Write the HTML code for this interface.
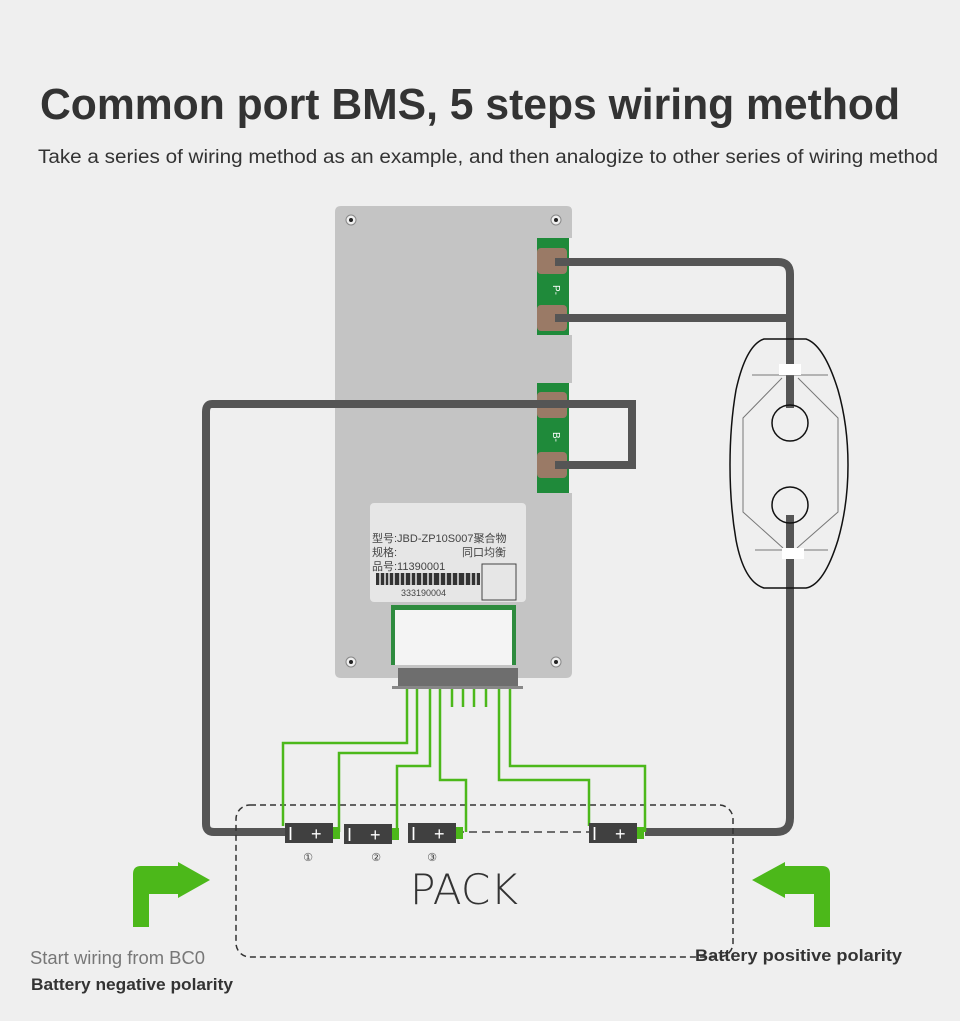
<!DOCTYPE html>
<html><head><meta charset="utf-8"><style>
body{margin:0;background:#efefef;}
svg{display:block}
</style></head><body>
<svg width="960" height="1021" viewBox="0 0 960 1021" xmlns="http://www.w3.org/2000/svg">
<rect width="960" height="1021" fill="#efefef"/>
<text x="470" y="119" text-anchor="middle" font-family="Liberation Sans, sans-serif" font-weight="bold" font-size="44" fill="#333" textLength="860" lengthAdjust="spacingAndGlyphs">Common port BMS, 5 steps wiring method</text>
<text x="488" y="163" text-anchor="middle" font-family="Liberation Sans, sans-serif" font-size="19" fill="#333" textLength="900" lengthAdjust="spacingAndGlyphs">Take a series of wiring method as an example, and then analogize to other series of wiring method</text>

<!-- board -->
<path d="M341,206 H567 Q572,206 572,211 V238 H568 V335 H572 V383 H568 V493 H572 V672 Q572,678 566,678 H341 Q335,678 335,672 V212 Q335,206 341,206Z" fill="#c4c4c4"/>
<rect x="537" y="238" width="32" height="97" fill="#1f8a3a"/>
<rect x="537" y="383" width="32" height="110" fill="#1f8a3a"/>
<g fill="#9a7a66"><rect x="537" y="248" width="30" height="26" rx="4"/><rect x="537" y="305" width="30" height="26" rx="4"/><rect x="537" y="392" width="30" height="26" rx="4"/><rect x="537" y="452" width="30" height="26" rx="4"/></g>
<text x="553" y="285" font-family="Liberation Sans,sans-serif" font-size="10" fill="#fff" transform="rotate(90 553 285)">P-</text>
<text x="553" y="432" font-family="Liberation Sans,sans-serif" font-size="10" fill="#fff" transform="rotate(90 553 432)">B-</text>
<g fill="#eee" stroke="#888"><circle cx="351" cy="220" r="5"/><circle cx="556" cy="220" r="5"/><circle cx="351" cy="662" r="5"/><circle cx="556" cy="662" r="5"/></g>
<g fill="#222"><circle cx="351" cy="220" r="2"/><circle cx="556" cy="220" r="2"/><circle cx="351" cy="662" r="2"/><circle cx="556" cy="662" r="2"/></g>
<rect x="370" y="503" width="156" height="99" rx="4" fill="#e6e6e6"/>
<text x="372" y="542" font-family="Liberation Sans,'Noto Sans CJK SC',sans-serif" font-size="11" fill="#444">型号:JBD-ZP10S007聚合物</text>
<text x="372" y="556" font-family="Liberation Sans,'Noto Sans CJK SC',sans-serif" font-size="11" fill="#444">规格:</text>
<text x="462" y="556" font-family="Liberation Sans,'Noto Sans CJK SC',sans-serif" font-size="11" fill="#444">同口均衡</text>
<text x="372" y="570" font-family="Liberation Sans,'Noto Sans CJK SC',sans-serif" font-size="11" fill="#444">品号:11390001</text>
<rect x="376" y="573" width="104" height="12" fill="#333"/>
<g stroke="#e6e6e6" stroke-width="1.5"><path d="M380,573v12M385,573v12M389,573v12M394,573v12M400,573v12M405,573v12M411,573v12M416,573v12M422,573v12M428,573v12M433,573v12M440,573v12M446,573v12M452,573v12M458,573v12M465,573v12M471,573v12M476,573v12"/></g>
<text x="401" y="596" font-family="Liberation Sans,sans-serif" font-size="9" fill="#444">333190004</text>
<rect x="482" y="564" width="34" height="36" fill="none" stroke="#444"/>
<rect x="391" y="605" width="125" height="60" fill="#2e8b3e"/>
<rect x="395" y="610" width="117" height="55" fill="#f4f4f4"/>
<rect x="398" y="668" width="120" height="20" fill="#6e6e6e"/>
<rect x="392" y="686" width="131" height="3" fill="#888"/>

<!-- gray wires -->
<g fill="none" stroke="#555" stroke-width="8">
<path d="M555,262 H778 Q790,262 790,274 V408"/>
<path d="M555,318 H790"/>
<path d="M790,515 V818 Q790,832 776,832 H645"/>
<path d="M555,465 H632 V404 H212 Q206,404 206,412 V824 Q206,832 214,832 H285"/>
</g>
<!-- connector -->
<g fill="none" stroke="#111" stroke-width="1.5">
<path d="M764,339 H806 Q824,345 838,390 Q848,425 848,465 Q848,505 838,540 Q824,585 806,588 H764 Q744,582 736,540 Q730,505 730,465 Q730,425 736,390 Q746,345 764,339Z"/>
<circle cx="790" cy="423" r="18"/><circle cx="790" cy="505" r="18"/>
</g>
<g fill="none" stroke="#777" stroke-width="1">
<path d="M752,375 H828 M755,550 H828 M782,378 L743,418 V512 L783,548 M798,378 L838,418 V512 L797,548"/>
</g>
<rect x="779" y="364" width="22" height="11" fill="#fff"/>
<rect x="782" y="548" width="22" height="11" fill="#fff"/>

<!-- pack box -->
<rect x="236" y="805" width="497" height="152" rx="14" fill="none" stroke="#333" stroke-width="1.5" stroke-dasharray="6,4"/>
<path d="M456,832 H589" stroke="#444" stroke-width="1.5" stroke-dasharray="8,5"/>
<!-- pins -->
<g stroke="#4cb81a" stroke-width="2.5" fill="none">
<path d="M452,689v18M463,689v18M474,689v18M486,689v18"/>
<path d="M407,689 V743 H283 V826"/>
<path d="M417,689 V753 H339 V832"/>
<path d="M430,689 V766 H397 V832"/>
<path d="M440,689 V780 H466 V832"/>
<path d="M499,689 V780 H589 V826"/>
<path d="M510,689 V766 H645 V832"/>
</g>
<!-- batteries -->
<g fill="#404040"><rect x="285" y="823" width="48" height="20"/><rect x="344" y="824" width="48" height="20"/><rect x="408" y="823" width="48" height="20"/><rect x="589" y="823" width="48" height="20"/></g>
<g fill="#4cb81a"><rect x="333" y="827" width="7" height="12"/><rect x="392" y="828" width="7" height="12"/><rect x="456" y="827" width="7" height="12"/><rect x="637" y="827" width="7" height="12"/></g>
<g font-family="Liberation Sans,sans-serif" fill="#fff" font-size="18"><text x="288" y="840">I</text><text x="311" y="840">+</text><text x="347" y="841">I</text><text x="370" y="841">+</text><text x="411" y="840">I</text><text x="434" y="840">+</text><text x="592" y="840">I</text><text x="615" y="840">+</text></g>
<g font-family="DejaVu Sans,sans-serif" fill="#444" font-size="11" text-anchor="middle"><text x="308" y="861">①</text><text x="376" y="861">②</text><text x="432" y="861">③</text></g>
<text x="464" y="904" text-anchor="middle" font-family="DejaVu Sans,sans-serif" font-weight="200" font-size="42" fill="#333" textLength="108" lengthAdjust="spacingAndGlyphs">PACK</text>

<!-- arrows -->
<g fill="#4cb81a">
<path d="M133,927 V874 Q133,866 141,866 H178 V862 L210,880 L178,898 V894 H149 V927Z"/>
<path d="M830,927 V874 Q830,866 822,866 H785 V862 L752,880 L785,898 V894 H814 V927Z"/>
</g>
<text x="30" y="964" font-family="Liberation Sans,sans-serif" font-size="18" fill="#777" textLength="175" lengthAdjust="spacingAndGlyphs">Start wiring from BC0</text>
<text x="31" y="990" font-family="Liberation Sans,sans-serif" font-weight="bold" font-size="17" fill="#333" textLength="202" lengthAdjust="spacingAndGlyphs">Battery negative polarity</text>
<text x="695" y="961" font-family="Liberation Sans,sans-serif" font-weight="bold" font-size="17" fill="#333" textLength="207" lengthAdjust="spacingAndGlyphs">Battery positive polarity</text>
</svg>
</body></html>
